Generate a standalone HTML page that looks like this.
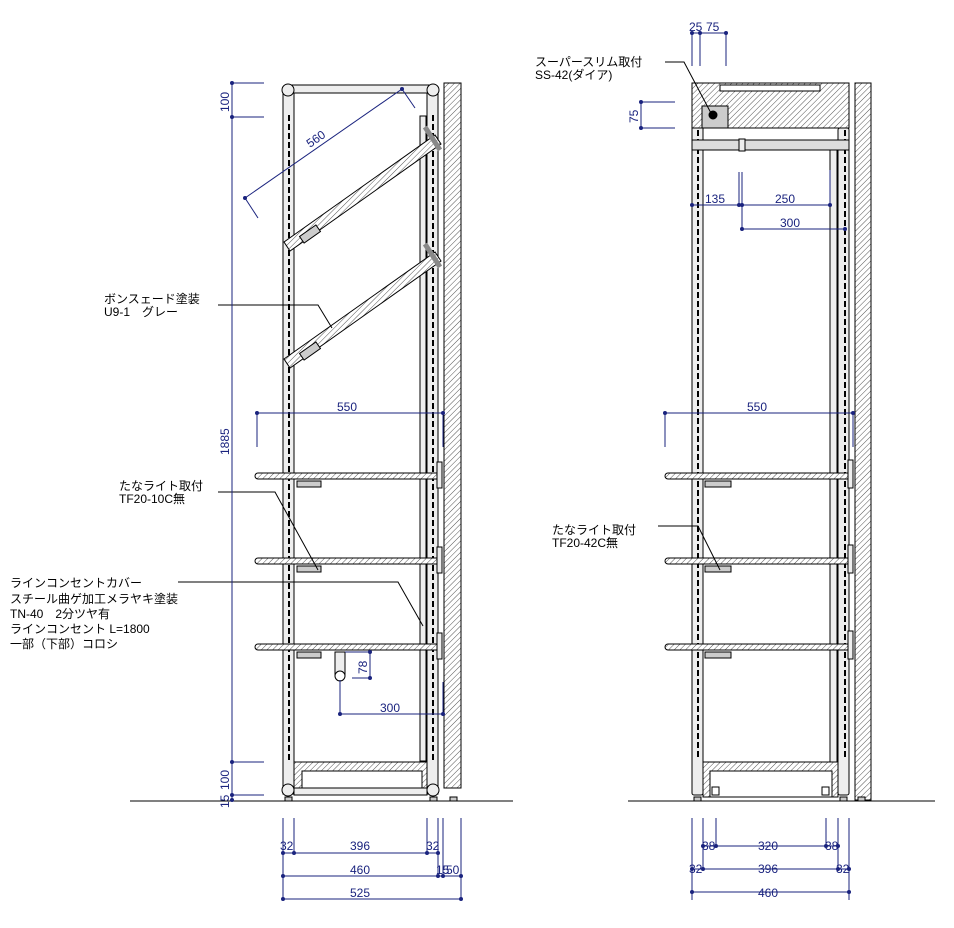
<!DOCTYPE html>
<html><head><meta charset="utf-8"><style>
html,body{margin:0;padding:0;background:#fff}
svg{display:block}
text{font-family:"Liberation Sans","Noto Sans CJK JP",sans-serif}
.t{font-size:12px;fill:#000}
.d{font-size:12px;fill:#1a237e}
</style></head><body>
<svg width="954" height="928" viewBox="0 0 954 928" xmlns="http://www.w3.org/2000/svg">
<defs>
<pattern id="h" patternUnits="userSpaceOnUse" width="4" height="4" patternTransform="rotate(45)">
<rect width="4" height="4" fill="#fff"/><line x1="0" y1="0" x2="0" y2="4" stroke="#555" stroke-width="1"/></pattern>
</defs>
<g stroke="#000" stroke-width="1" fill="none">
<line x1="130" y1="801" x2="513" y2="801"/>
<rect x="444" y="83" width="17" height="705" fill="url(#h)"/>
<rect x="283" y="88" width="11" height="706" fill="#eee"/>
<rect x="427" y="88" width="11" height="706" fill="#eee"/>
<rect x="420" y="116" width="6" height="645" fill="#eee"/>
<rect x="288" y="85" width="145" height="8" fill="#eee"/>
<circle cx="288" cy="90" r="6" fill="#eee"/>
<circle cx="433" cy="90" r="6" fill="#eee"/>
<line x1="289" y1="115" x2="289" y2="760" stroke-dasharray="6,3" stroke-width="2"/>
<line x1="433" y1="115" x2="433" y2="760" stroke-dasharray="6,3" stroke-width="2"/>
<rect x="294" y="762" width="133" height="33" fill="url(#h)"/>
<rect x="302" y="771" width="120" height="18" fill="#fff"/>
<rect x="294" y="788" width="133" height="7" fill="#eee"/>
<circle cx="288" cy="790" r="6" fill="#eee"/><circle cx="433" cy="790" r="6" fill="#eee"/>
<rect x="285" y="797" width="7" height="4" fill="#ccc"/><rect x="430" y="797" width="7" height="4" fill="#ccc"/><rect x="450" y="797" width="7" height="4" fill="#ccc"/>
<g fill="url(#h)">
<polygon points="284,242 435,135 441,144 290,251"/>
<polygon points="284,359 435,252 441,261 290,368"/>
</g>
<rect x="300" y="230" width="20" height="8" fill="#ccc" transform="rotate(-35 310 234)"/>
<rect x="300" y="347" width="20" height="8" fill="#ccc" transform="rotate(-35 310 351)"/>
<line x1="425" y1="127" x2="440" y2="150" stroke-width="5" stroke="#888"/>
<line x1="425" y1="244" x2="440" y2="267" stroke-width="5" stroke="#888"/>
<g fill="url(#h)">
<rect x="255" y="473" width="186" height="6" rx="3"/>
<rect x="255" y="558" width="186" height="6" rx="3"/>
<rect x="255" y="644" width="186" height="6" rx="3"/>
</g>
<rect x="437" y="462" width="5" height="26" fill="#eee"/>
<rect x="437" y="547" width="5" height="26" fill="#eee"/>
<rect x="437" y="633" width="5" height="26" fill="#eee"/>
<rect x="297" y="481" width="24" height="6" fill="#ccc"/>
<rect x="297" y="566" width="24" height="6" fill="#ccc"/>
<rect x="297" y="652" width="24" height="6" fill="#ccc"/>
<rect x="335" y="652" width="10" height="24" fill="#eee"/>
<circle cx="340" cy="676" r="5" fill="#fff"/>
<line x1="628" y1="801" x2="935" y2="801"/>
<rect x="855" y="83" width="16" height="717" fill="url(#h)"/>
<rect x="692" y="83" width="11" height="712" fill="#eee" rx="2"/>
<rect x="838" y="128" width="11" height="667" fill="#eee" rx="2"/>
<rect x="830" y="150" width="7" height="612" fill="#eee"/>
<line x1="698" y1="130" x2="698" y2="760" stroke-dasharray="6,3" stroke-width="2"/>
<line x1="845" y1="130" x2="845" y2="760" stroke-dasharray="6,3" stroke-width="2"/>
<rect x="692" y="83" width="157" height="45" fill="url(#h)"/>
<rect x="720" y="85" width="100" height="6" fill="#fff"/>
<rect x="702" y="106" width="26" height="22" fill="#ccc"/>
<circle cx="713" cy="115" r="4" fill="#000"/>
<rect x="692" y="140" width="157" height="10" fill="#ddd"/>
<rect x="739" y="139" width="6" height="12" fill="#eee"/>
<g fill="url(#h)">
<rect x="665" y="473" width="185" height="6" rx="3"/>
<rect x="665" y="558" width="185" height="6" rx="3"/>
<rect x="665" y="644" width="185" height="6" rx="3"/>
</g>
<rect x="848" y="460" width="5" height="28" fill="#eee"/>
<rect x="848" y="545" width="5" height="28" fill="#eee"/>
<rect x="848" y="631" width="5" height="28" fill="#eee"/>
<rect x="705" y="481" width="26" height="6" fill="#ccc"/>
<rect x="705" y="566" width="26" height="6" fill="#ccc"/>
<rect x="705" y="652" width="26" height="6" fill="#ccc"/>
<rect x="703" y="762" width="135" height="35" fill="url(#h)"/>
<rect x="710" y="771" width="122" height="26" fill="#fff"/>
<rect x="712" y="787" width="7" height="8"/><rect x="822" y="787" width="7" height="8"/>
<rect x="694" y="797" width="7" height="4" fill="#ccc"/><rect x="840" y="797" width="7" height="4" fill="#ccc"/><rect x="858" y="797" width="7" height="4" fill="#ccc"/>
<polyline points="218,305 318,305 332,328"/>
<polyline points="218,492 275,492 318,570"/>
<polyline points="178,582 398,582 423,626"/>
<polyline points="658,526 698,526 720,570"/>
<polyline points="665,62 684,62 712,115"/>
</g>
<g stroke="#1a237e" stroke-width="1" fill="none">
<line x1="232" y1="83" x2="232" y2="800"/>
<line x1="232" y1="83" x2="264" y2="83"/><line x1="232" y1="117" x2="264" y2="117"/>
<line x1="232" y1="762" x2="264" y2="762"/><line x1="232" y1="795" x2="264" y2="795"/>
<line x1="245" y1="198" x2="402" y2="89"/><line x1="245" y1="198" x2="258" y2="218"/><line x1="402" y1="89" x2="415" y2="108"/>
<line x1="257" y1="413" x2="443" y2="413"/><line x1="257" y1="413" x2="257" y2="447"/><line x1="443" y1="413" x2="443" y2="447"/>
<line x1="370" y1="652" x2="370" y2="678"/><line x1="352" y1="678" x2="370" y2="678"/><line x1="345" y1="652" x2="370" y2="652"/>
<line x1="340" y1="680" x2="340" y2="714"/><line x1="340" y1="714" x2="443" y2="714"/><line x1="443" y1="682" x2="443" y2="714"/>
<line x1="283" y1="818" x2="283" y2="899"/><line x1="294" y1="818" x2="294" y2="853"/><line x1="427" y1="818" x2="427" y2="853"/><line x1="438" y1="818" x2="438" y2="876"/><line x1="443" y1="818" x2="443" y2="876"/><line x1="461" y1="818" x2="461" y2="899"/>
<line x1="283" y1="853" x2="438" y2="853"/><line x1="283" y1="876" x2="461" y2="876"/><line x1="283" y1="899" x2="461" y2="899"/>
<line x1="692" y1="33" x2="692" y2="66"/><line x1="700" y1="33" x2="700" y2="66"/><line x1="726" y1="33" x2="726" y2="66"/><line x1="692" y1="33" x2="726" y2="33"/>
<line x1="641" y1="102" x2="641" y2="128"/><line x1="641" y1="102" x2="675" y2="102"/><line x1="641" y1="128" x2="675" y2="128"/>
<line x1="692" y1="205" x2="830" y2="205"/><line x1="739" y1="172" x2="739" y2="205"/><line x1="742" y1="172" x2="742" y2="229"/><line x1="742" y1="229" x2="845" y2="229"/><line x1="830" y1="170" x2="830" y2="205"/>
<line x1="665" y1="413" x2="853" y2="413"/><line x1="665" y1="413" x2="665" y2="447"/><line x1="853" y1="413" x2="853" y2="447"/>
<line x1="692" y1="818" x2="692" y2="900"/><line x1="703" y1="818" x2="703" y2="869"/><line x1="716" y1="818" x2="716" y2="846"/><line x1="826" y1="818" x2="826" y2="846"/><line x1="838" y1="818" x2="838" y2="869"/><line x1="849" y1="818" x2="849" y2="900"/>
<line x1="703" y1="846" x2="838" y2="846"/><line x1="692" y1="869" x2="849" y2="869"/><line x1="692" y1="892" x2="849" y2="892"/>
</g>
<g fill="#1a237e">
<circle cx="232" cy="83" r="2"/><circle cx="232" cy="117" r="2"/><circle cx="232" cy="762" r="2"/><circle cx="232" cy="795" r="2"/><circle cx="232" cy="800" r="2"/>
<circle cx="245" cy="198" r="2"/><circle cx="402" cy="89" r="2"/><circle cx="257" cy="413" r="2"/><circle cx="443" cy="413" r="2"/>
<circle cx="370" cy="652" r="2"/><circle cx="370" cy="678" r="2"/><circle cx="340" cy="714" r="2"/><circle cx="443" cy="714" r="2"/>
<circle cx="283" cy="853" r="2"/><circle cx="294" cy="853" r="2"/><circle cx="427" cy="853" r="2"/><circle cx="438" cy="853" r="2"/>
<circle cx="283" cy="876" r="2"/><circle cx="438" cy="876" r="2"/><circle cx="443" cy="876" r="2"/><circle cx="461" cy="876" r="2"/><circle cx="283" cy="899" r="2"/><circle cx="461" cy="899" r="2"/>
<circle cx="692" cy="33" r="2"/><circle cx="700" cy="33" r="2"/><circle cx="726" cy="33" r="2"/><circle cx="641" cy="102" r="2"/><circle cx="641" cy="128" r="2"/>
<circle cx="692" cy="205" r="2"/><circle cx="739" cy="205" r="2"/><circle cx="742" cy="205" r="2"/><circle cx="830" cy="205" r="2"/><circle cx="742" cy="229" r="2"/><circle cx="845" cy="229" r="2"/>
<circle cx="665" cy="413" r="2"/><circle cx="853" cy="413" r="2"/>
<circle cx="703" cy="846" r="2"/><circle cx="716" cy="846" r="2"/><circle cx="826" cy="846" r="2"/><circle cx="838" cy="846" r="2"/>
<circle cx="692" cy="869" r="2"/><circle cx="703" cy="869" r="2"/><circle cx="838" cy="869" r="2"/><circle cx="849" cy="869" r="2"/><circle cx="692" cy="892" r="2"/><circle cx="849" cy="892" r="2"/>
</g>
<g class="d">
<text class="d" transform="translate(229,112) rotate(-90)">100</text>
<text class="d" transform="translate(229,455) rotate(-90)">1885</text>
<text class="d" transform="translate(229,790) rotate(-90)">100</text>
<text class="d" transform="translate(229,808) rotate(-90)">15</text>
<text class="d" transform="translate(310,148) rotate(-35)">560</text>
<text class="d" x="337" y="411">550</text>
<text class="d" transform="translate(367,674) rotate(-90)">78</text>
<text class="d" x="380" y="712">300</text>
<text class="d" x="280" y="850">32</text><text class="d" x="350" y="850">396</text><text class="d" x="426" y="850">32</text>
<text class="d" x="350" y="874">460</text><text class="d" x="436" y="874">15</text><text class="d" x="446" y="874">50</text>
<text class="d" x="350" y="897">525</text>
<text class="d" x="689" y="31">25</text><text class="d" x="706" y="31">75</text>
<text class="d" transform="translate(638,123) rotate(-90)">75</text>
<text class="d" x="705" y="203">135</text><text class="d" x="775" y="203">250</text><text class="d" x="780" y="227">300</text>
<text class="d" x="747" y="411">550</text>
<text class="d" x="702" y="850">38</text><text class="d" x="758" y="850">320</text><text class="d" x="825" y="850">38</text>
<text class="d" x="689" y="873">32</text><text class="d" x="758" y="873">396</text><text class="d" x="836" y="873">32</text>
<text class="d" x="758" y="897">460</text>
</g>
<g class="t">
<text class="t" x="104" y="303">ボンスェード塗装</text>
<text class="t" x="104" y="316">U9-1　グレー</text>
<text class="t" x="119" y="490">たなライト取付</text>
<text class="t" x="119" y="503">TF20-10C無</text>
<text class="t" x="10" y="587">ラインコンセントカバー</text>
<text class="t" x="10" y="603">スチール曲ゲ加工メラヤキ塗装</text>
<text class="t" x="10" y="618">TN-40　2分ツヤ有</text>
<text class="t" x="10" y="633">ラインコンセント L=1800</text>
<text class="t" x="10" y="648">一部（下部）コロシ</text>
<text class="t" x="535" y="66">スーパースリム取付</text>
<text class="t" x="535" y="79">SS-42(ダイア)</text>
<text class="t" x="552" y="534">たなライト取付</text>
<text class="t" x="552" y="547">TF20-42C無</text>
</g>
</svg>
</body></html>
